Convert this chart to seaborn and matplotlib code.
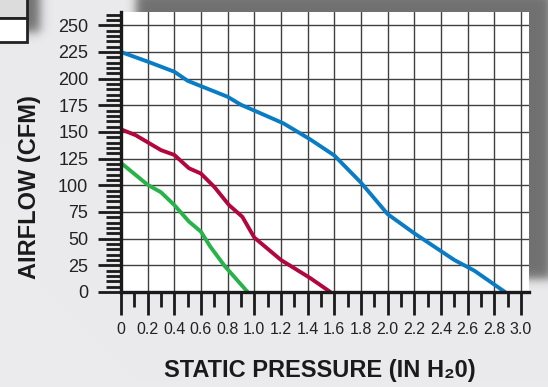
import numpy as np
import pandas as pd
import matplotlib
matplotlib.use("Agg")
import matplotlib.pyplot as plt
import seaborn as sns
from matplotlib.patches import Rectangle

# fan curves: static pressure (in H2O) vs airflow (CFM)
blue_pressure = [0, 0.2, 0.4, 0.5, 0.8, 0.9, 1.02, 1.22, 1.42, 1.6, 1.8, 2.0, 2.2, 2.5, 2.65, 2.88]
blue_cfm = [225, 216, 206.5, 198, 183, 175.5, 169, 158, 143, 128, 102.5, 73, 55, 30, 20, 0]

red_pressure = [0, 0.11, 0.3, 0.4, 0.51, 0.6, 0.7, 0.81, 0.91, 1.0, 1.2, 1.42, 1.57]
red_cfm = [152.5, 147, 133, 128.5, 116, 111, 98.5, 81.5, 70.5, 51, 30, 13, 0]

green_pressure = [0, 0.2, 0.3, 0.4, 0.51, 0.6, 0.67, 0.78, 0.95]
green_cfm = [121, 100.5, 93.5, 81.5, 66, 56.5, 42.5, 24, 0]

x_tick_values = [0, 0.2, 0.4, 0.6, 0.8, 1.0, 1.2, 1.4, 1.6, 1.8, 2.0, 2.2, 2.4, 2.6, 2.8, 3.0]
x_tick_labels = ['0', '0.2', '0.4', '0.6', '0.8', '1.0', '1.2', '1.4', '1.6', '1.8',
                 '2.0', '2.2', '2.4', '2.6', '2.8', '3.0']
y_tick_values = [0, 25, 50, 75, 100, 125, 150, 175, 200, 225, 250]

W, H = 548, 387
sns.set_style("white")
plt.rcParams['font.family'] = ['Liberation Sans', 'DejaVu Sans']

fig = plt.figure(figsize=(W / 100, H / 100), dpi=100)

# background with soft drop shadows (pixel coordinates)
bg = fig.add_axes([0, 0, 1, 1])
X, Y = np.meshgrid(np.arange(W) + 0.5, np.arange(H) + 0.5)


def soft_rect(x0, x1, y0, y1, w):
    sx = 0.5 * (np.tanh((X - x0) / w) - np.tanh((X - x1) / w))
    sy = 0.5 * (np.tanh((Y - y0) / w) - np.tanh((Y - y1) / w))
    return sx * sy


shade = np.clip(soft_rect(136, 552, -8, 279, 5.5) + soft_rect(-20, 40, -20, 32, 6), 0, 1) * 0.7
base = np.array([235, 235, 237]) / 255
dark = np.array([60, 60, 60]) / 255
img = base[None, None, :] * (1 - shade[..., None]) + dark[None, None, :] * shade[..., None]
bg.imshow(img, extent=(0, W, H, 0), interpolation='bilinear')
bg.set_xlim(0, W)
bg.set_ylim(H, 0)
bg.axis('off')

# small box at the top-left corner
bg.add_patch(Rectangle((-5, -5), 32, 23, facecolor='#dcdcdc', edgecolor='#222222', lw=2))
bg.add_patch(Rectangle((-5, 18), 32, 24, facecolor='white', edgecolor='#222222', lw=2))

# plot panel
ax = fig.add_axes([121 / W, (H - 292) / H, 408 / W, 280 / H])
ax.set_facecolor('white')

sns.lineplot(x=blue_pressure, y=blue_cfm, ax=ax, color='#0a7cc4', lw=2.8, sort=False, zorder=3)
sns.lineplot(x=red_pressure, y=red_cfm, ax=ax, color='#b3063d', lw=2.8, sort=False, zorder=3)
sns.lineplot(x=green_pressure, y=green_cfm, ax=ax, color='#27b24a', lw=2.8, sort=False, zorder=3)

ax.set_xlim(0, 3.06)
ax.set_ylim(0, 262.5)
ax.set_xticks(x_tick_values)
ax.set_xticklabels(x_tick_labels)
ax.set_xticks(np.arange(0.1, 3.0, 0.2), minor=True)
ax.set_yticks(y_tick_values)
ax.set_yticks([v for v in range(5, 262, 5) if v % 25], minor=True)

ax.grid(True, which='major', color='#404040', lw=1.0)
ax.set_axisbelow(True)
for side in ['top', 'right']:
    ax.spines[side].set_visible(False)
for side in ['left', 'bottom']:
    ax.spines[side].set_color('#1a1a1a')
    ax.spines[side].set_linewidth(2.4)
    ax.spines[side].set_zorder(4)

ax.tick_params(which='both', bottom=True, left=True, direction='out', width=2, color='#1a1a1a')
ax.tick_params(which='major', length=16.5)
ax.tick_params(which='minor', length=11)
ax.tick_params(axis='x', which='major', pad=5, labelsize=11.5)
ax.tick_params(axis='y', which='major', pad=7, labelsize=13)
for lab in ax.get_xticklabels() + ax.get_yticklabels():
    lab.set_color('#222222')

ax.set_xlabel('')
ax.set_ylabel('')
fig.text(30 / W, 1 - 187 / H, 'AIRFLOW (CFM)', rotation=90, ha='center', va='center',
         fontsize=17, fontweight='bold', color='#1a1a1a')
fig.text(320 / W, 1 - 371 / H, 'STATIC PRESSURE (IN H\u20820)', ha='center', va='center',
         fontsize=17, fontweight='bold', color='#1a1a1a')

fig.savefig('out.png', dpi=100)
